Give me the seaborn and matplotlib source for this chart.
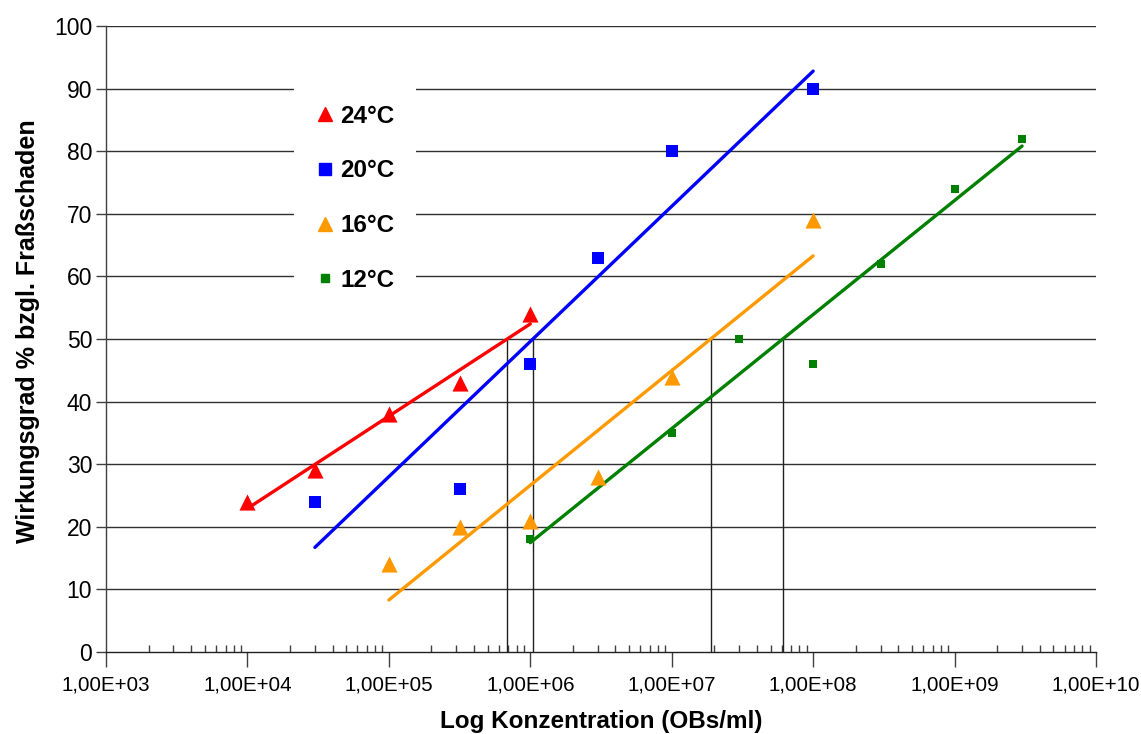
import numpy as np
import pandas as pd
import matplotlib
matplotlib.use("Agg")
import matplotlib.pyplot as plt
import seaborn as sns
from matplotlib.lines import Line2D
from matplotlib.ticker import FixedLocator, FuncFormatter, LogLocator, NullFormatter

# ---- data ----
labels = ["24°C", "20°C", "16°C", "12°C"]
x24 = [1e4, 3e4, 1e5, 3.16e5, 1e6]
y24 = [24, 29, 38, 43, 54]
x20 = [3e4, 3.16e5, 1e6, 3e6, 1e7, 1e8]
y20 = [24, 26, 46, 63, 80, 90]
x16 = [1e5, 3.16e5, 1e6, 3e6, 1e7, 1e8]
y16 = [14, 20, 21, 28, 44, 69]
x12 = [1e6, 1e7, 3e7, 1e8, 3e8, 1e9, 3e9]
y12 = [18, 35, 50, 46, 62, 74, 82]
y_ticks = [0, 10, 20, 30, 40, 50, 60, 70, 80, 90, 100]
x_ticks = [1e3, 1e4, 1e5, 1e6, 1e7, 1e8, 1e9, 1e10]
threshold = 50

series = [
    (labels[0], x24, y24, "#FF0000", "^", 135, 10.5),
    (labels[1], x20, y20, "#0000FF", "s", 72, 8.2),
    (labels[2], x16, y16, "#FF9900", "^", 135, 10.5),
    (labels[3], x12, y12, "#008000", "s", 34, 5.8),
]

sns.set_theme(style="white")
plt.rcParams["font.family"] = ["Liberation Sans", "DejaVu Sans"]
plt.rcParams["text.color"] = "black"
plt.rcParams["axes.labelcolor"] = "black"
plt.rcParams["xtick.color"] = "black"
plt.rcParams["ytick.color"] = "black"

fig = plt.figure(figsize=(11.41, 7.34), dpi=100)
ax = fig.add_axes([106 / 1141, 1 - 652 / 734, 990 / 1141, 626 / 734])
ax.set_xscale("log")
ax.set_xlim(1e3, 1e10)
ax.set_ylim(0, 100)

# horizontal grid
for yv in y_ticks[1:]:
    ax.axhline(yv, color="#303030", lw=1.0, zorder=1)

handles = []
for name, xs, ys, col, mk, s, ms in series:
    df = pd.DataFrame({"x": xs, "y": ys})
    lx = np.log10(df["x"].values)
    m, b = np.polyfit(lx, df["y"].values, 1)
    # linear trend line (on log10 x) over the data range
    xl = np.logspace(lx.min(), lx.max(), 50)
    sns.lineplot(x=xl, y=m * np.log10(xl) + b, color=col, lw=2.4, ax=ax, zorder=3)
    # vertical line where the trend reaches the threshold
    xc = 10 ** ((threshold - b) / m)
    ax.plot([xc, xc], [0, threshold], color="#202020", lw=1.0, zorder=2)
    sns.scatterplot(data=df, x="x", y="y", color=col, marker=mk, s=s,
                    linewidth=0, ax=ax, zorder=4)
    handles.append(Line2D([], [], ls="none", marker=mk, color=col,
                          markersize=ms, label=name))

# axes styling
for sp in ["top", "right"]:
    ax.spines[sp].set_visible(False)
ax.spines["left"].set_color("#404040")
ax.spines["bottom"].set_color("#202020")
ax.spines["left"].set_linewidth(1.0)
ax.spines["bottom"].set_linewidth(1.0)

ax.yaxis.set_major_locator(FixedLocator(y_ticks))
ax.tick_params(axis="y", which="major", direction="out", length=7, width=1,
               color="#404040", labelcolor="black", labelsize=16.5, pad=3, left=True)
ax.xaxis.set_major_locator(FixedLocator(x_ticks))
ax.xaxis.set_minor_locator(LogLocator(base=10, subs=np.arange(2, 10), numticks=20))
ax.xaxis.set_minor_formatter(NullFormatter())
ax.xaxis.set_major_formatter(FuncFormatter(
    lambda v, p: ("%.2fE+%02d" % (v / 10 ** int(round(np.log10(v))), int(round(np.log10(v))))).replace(".", ",")))
ax.tick_params(axis="x", which="major", direction="out", length=11, width=1,
               color="#404040", labelcolor="black", labelsize=14.8, pad=6, bottom=True)
ax.tick_params(axis="x", which="minor", direction="in", length=5, width=1,
               color="#404040", bottom=True)

ax.set_xlabel("Log Konzentration (OBs/ml)", fontsize=17.5, fontweight="bold",
              labelpad=11, color="black")
ax.set_ylabel("Wirkungsgrad % bzgl. Fraßschaden", fontsize=18, fontweight="bold",
              color="black")
ax.yaxis.set_label_coords((40 - 106) / 990, (652 - 331) / 626)

leg = ax.legend(handles=handles, loc="upper left",
                bbox_to_anchor=((294 - 106) / 990, (652 - 83) / 626),
                borderaxespad=0, frameon=True, facecolor="white", edgecolor="none",
                framealpha=1, fancybox=False, prop={"size": 17.5, "weight": "bold"},
                borderpad=0.9, handlelength=0.75, handletextpad=0.25, labelspacing=1.3)
for t in leg.get_texts():
    t.set_color("black")
leg.set_zorder(5)

fig.savefig("out.png", dpi=100, facecolor="white")
